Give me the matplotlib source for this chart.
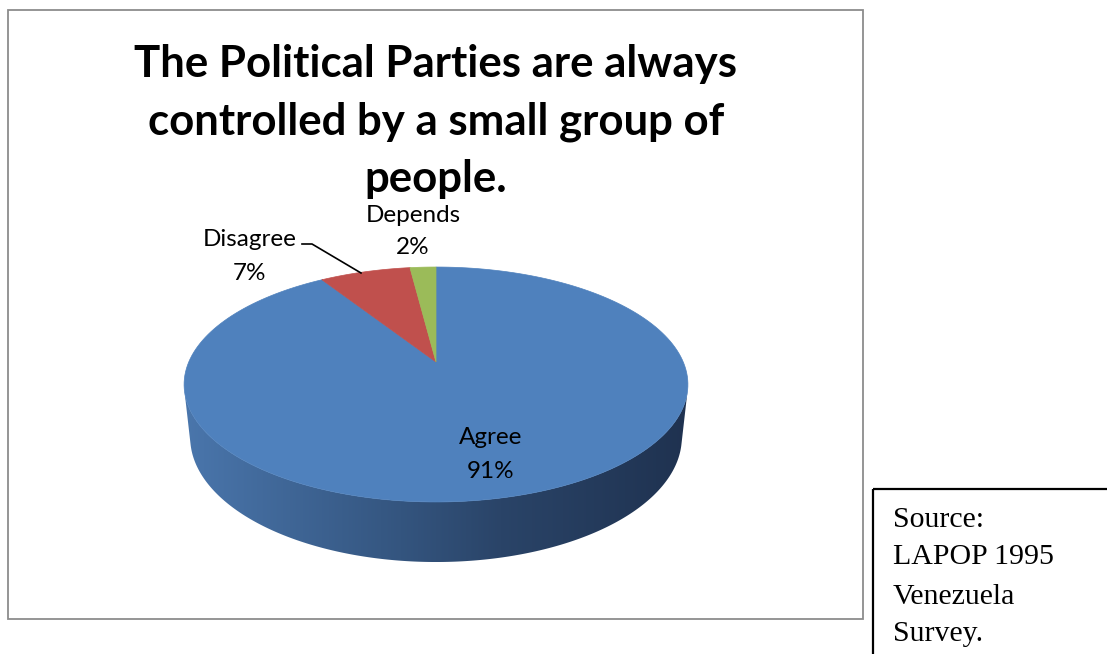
import numpy as np
import matplotlib.pyplot as plt
from matplotlib.patches import Polygon, Rectangle
from matplotlib.colors import LinearSegmentedColormap

# survey answers
labels = ["Agree", "Disagree", "Depends"]
values = [91, 7, 2]
colors = ["#4F81BD", "#C0504D", "#9BBB59"]

title_lines = ["The Political Parties are always",
               "controlled by a small group of",
               "people."]
source_lines = ["Source:", "LAPOP 1995", "Venezuela", "Survey."]

# perspective camera for the tilted 3-D pie
ELEV = np.arcsin(0.4577)
DIST = 4.643
THICK = 0.2426
FOCAL = 1148.0        # pixels per projected unit
CX, CY = 436.0, 362.0  # where the pie centre lands (pixels)
W, H = 1107, 654


def project(a_deg, z=0.0, r=1.0):
    # angle measured clockwise from 12 o'clock, like an Excel pie
    a = np.radians(a_deg)
    x = r * np.sin(a)
    y = r * np.cos(a)
    ry = y + DIST * np.cos(ELEV)
    rz = z - DIST * np.sin(ELEV)
    yc = ry * np.sin(ELEV) + rz * np.cos(ELEV)
    zc = ry * np.cos(ELEV) - rz * np.sin(ELEV)
    return x / zc, yc / zc


fig = plt.figure(figsize=(W / 100, H / 100), dpi=100)

# pie axes, scaled so one projected unit = FOCAL pixels
pax = fig.add_axes([0, 0, 1, 1])
pax.axis("off")

# visible front wall between the two silhouette generators
edge = np.degrees(np.arccos(-1 / (DIST * np.cos(ELEV))))
a_side = np.linspace(edge, 360 - edge, 300)
tx, ty = project(a_side, 0.0)
bx, by = project(a_side[::-1], -THICK)
wall = Polygon(np.column_stack([np.r_[tx, bx], np.r_[ty, by]]),
               closed=True, facecolor="none", edgecolor="none")
pax.add_patch(wall)

side_cmap = LinearSegmentedColormap.from_list(
    "side", [(0.0, "#4A76AC"), (0.43, "#34557F"), (0.63, "#2A4468"), (1.0, "#1F3250")])
grad = np.linspace(0, 1, 256)[None, :]
img = pax.imshow(grad, cmap=side_cmap, aspect="auto",
                 extent=[min(tx.min(), bx.min()), max(tx.max(), bx.max()),
                         by.min(), ty.max()], zorder=1)
img.set_clip_path(wall)

# top face wedges
total = sum(values)
start = 0.0
for v, c in zip(values, colors):
    span = 360.0 * v / total
    a = np.linspace(start, start + span, 200)
    px, py = project(a)
    pax.add_patch(Polygon(np.column_stack([np.r_[0, px], np.r_[0, py]]),
                          closed=True, facecolor=c, edgecolor=c, lw=0.5, zorder=2))
    start += span

pax.set_xlim(-CX / FOCAL, (W - CX) / FOCAL)
pax.set_ylim(-(H - CY) / FOCAL, CY / FOCAL)

# overlay in pixel coordinates for frame and text
ax = fig.add_axes([0, 0, 1, 1])
ax.set_xlim(0, W)
ax.set_ylim(H, 0)
ax.axis("off")
ax.patch.set_visible(False)

ax.add_patch(Rectangle((8, 10), 855, 609, fill=False, edgecolor="#8C8C8C", lw=1.3))
ax.add_patch(Rectangle((873, 489), 300, 300, fill=False, edgecolor="black", lw=1.6,
                       clip_on=True))

for line, y in zip(title_lines, [64, 122, 179]):
    ax.text(436, y, line, ha="center", va="center", fontsize=31.5,
            fontweight="bold", family="Lato")

lab_pos = {"Agree": (491, 438), "Disagree": (250, 240), "Depends": (413, 215)}
for lab, v in zip(labels, values):
    x, y = lab_pos[lab]
    ax.text(x, y, lab, ha="center", va="center", fontsize=17.5, family="Lato")
    ax.text(x, y + 33, f"{v}%", ha="center", va="center", fontsize=17.5, family="Lato")

# leader line for the small red slice
ax.plot([302, 312, 361], [244, 244, 273], color="black", lw=1.2)

for line, y in zip(source_lines, [520, 557, 597, 634]):
    ax.text(893, y, line, ha="left", va="center", fontsize=21.5,
            family="Liberation Serif")

fig.savefig("out.png", dpi=100)
